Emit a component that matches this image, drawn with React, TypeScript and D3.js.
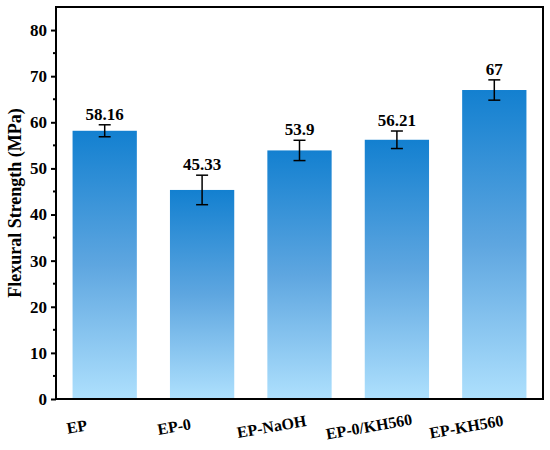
import React, { useEffect, useRef } from 'react';
import * as d3 from 'd3';

const categories = ['EP', 'EP-0', 'EP-NaOH', 'EP-0/KH560', 'EP-KH560'];
const values = [58.16, 45.33, 53.9, 56.21, 67];
const errors = [1.3, 3.2, 2.2, 1.9, 2.2];
const valueLabels = ['58.16', '45.33', '53.9', '56.21', '67'];
const yTicks = [0, 10, 20, 30, 40, 50, 60, 70, 80];

const App: React.FC = () => {
  const svgRef = useRef<SVGSVGElement>(null);

  useEffect(() => {
    if (!svgRef.current) return;
    const svg = d3.select(svgRef.current);
    svg.selectAll('*').remove();

    const margin = { top: 7, right: 7, bottom: 51, left: 56 };
    const W = 550, H = 450;
    const width = W - margin.left - margin.right;
    const height = H - margin.top - margin.bottom;
    const font = "'Times New Roman', 'DejaVu Serif', serif";

    const defs = svg.append('defs');
    const grad = defs.append('linearGradient')
      .attr('id', 'barGrad')
      .attr('x1', 0).attr('y1', 0).attr('x2', 0).attr('y2', 1);
    grad.append('stop').attr('offset', '0%').attr('stop-color', '#1380d0');
    grad.append('stop').attr('offset', '50%').attr('stop-color', '#5ea6e0');
    grad.append('stop').attr('offset', '100%').attr('stop-color', '#aee0fd');

    const g = svg.append('g').attr('transform', `translate(${margin.left},${margin.top})`);

    const x = d3.scaleBand().domain(categories).range([0, width]).paddingInner(0.34).paddingOuter(0.17);
    const y = d3.scaleLinear().domain([0, 85]).range([height, 0]);

    // bars
    g.selectAll('.bar')
      .data(categories)
      .enter()
      .append('rect')
      .attr('x', d => x(d)!)
      .attr('y', (_, i) => y(values[i]))
      .attr('width', x.bandwidth())
      .attr('height', (_, i) => height - y(values[i]))
      .attr('fill', 'url(#barGrad)');

    // error bars
    const cap = 6;
    const eb = g.selectAll('.err')
      .data(categories)
      .enter()
      .append('g')
      .attr('stroke', '#000')
      .attr('stroke-width', 1.5);
    eb.append('line')
      .attr('x1', d => x(d)! + x.bandwidth() / 2)
      .attr('x2', d => x(d)! + x.bandwidth() / 2)
      .attr('y1', (_, i) => y(values[i] + errors[i]))
      .attr('y2', (_, i) => y(values[i] - errors[i]));
    eb.append('line')
      .attr('x1', d => x(d)! + x.bandwidth() / 2 - cap)
      .attr('x2', d => x(d)! + x.bandwidth() / 2 + cap)
      .attr('y1', (_, i) => y(values[i] + errors[i]))
      .attr('y2', (_, i) => y(values[i] + errors[i]));
    eb.append('line')
      .attr('x1', d => x(d)! + x.bandwidth() / 2 - cap)
      .attr('x2', d => x(d)! + x.bandwidth() / 2 + cap)
      .attr('y1', (_, i) => y(values[i] - errors[i]))
      .attr('y2', (_, i) => y(values[i] - errors[i]));

    // value labels
    g.selectAll('.vlabel')
      .data(categories)
      .enter()
      .append('text')
      .attr('x', d => x(d)! + x.bandwidth() / 2)
      .attr('y', (_, i) => y(values[i] + errors[i]) - 5)
      .attr('text-anchor', 'middle')
      .attr('font-family', font)
      .attr('font-weight', 'bold')
      .attr('font-size', 17)
      .attr('fill', '#000')
      .text((_, i) => valueLabels[i]);

    // frame
    g.append('rect')
      .attr('x', 0).attr('y', 0)
      .attr('width', width).attr('height', height)
      .attr('fill', 'none')
      .attr('stroke', '#000')
      .attr('stroke-width', 2);

    // y axis
    const yAxis = g.append('g')
      .call(d3.axisLeft(y).tickValues(yTicks).tickSize(5).tickPadding(4).tickFormat(d3.format('d')));
    yAxis.select('.domain').remove();
    yAxis.attr('font-family', font).attr('font-size', 17).attr('font-weight', 'bold');
    yAxis.selectAll('line').attr('stroke-width', 2);
    yAxis.selectAll('text').attr('fill', '#000');

    const minor = d3.range(5, 85, 10);
    g.selectAll('.minor')
      .data(minor)
      .enter()
      .append('line')
      .attr('x1', -3).attr('x2', 0)
      .attr('y1', d => y(d)).attr('y2', d => y(d))
      .attr('stroke', '#000')
      .attr('stroke-width', 2);

    // x labels
    g.selectAll('.xlabel')
      .data(categories)
      .enter()
      .append('text')
      .attr('transform', d => `translate(${x(d)! + x.bandwidth() / 2 - 27},${height + 33}) rotate(-10)`)
      .attr('text-anchor', 'middle')
      .attr('font-family', font)
      .attr('font-weight', 'bold')
      .attr('font-size', 16)
      .attr('fill', '#000')
      .text(d => d);

    // y title
    svg.append('text')
      .attr('transform', `translate(21,${margin.top + height / 2}) rotate(-90)`)
      .attr('text-anchor', 'middle')
      .attr('font-family', font)
      .attr('font-weight', 'bold')
      .attr('font-size', 18)
      .attr('fill', '#000')
      .text('Flexural Strength (MPa)');
  }, []);

  return <svg ref={svgRef} width={550} height={450} style={{ display: 'block', position: 'absolute', left: 0, top: 0 }} />;
};

export default App;
